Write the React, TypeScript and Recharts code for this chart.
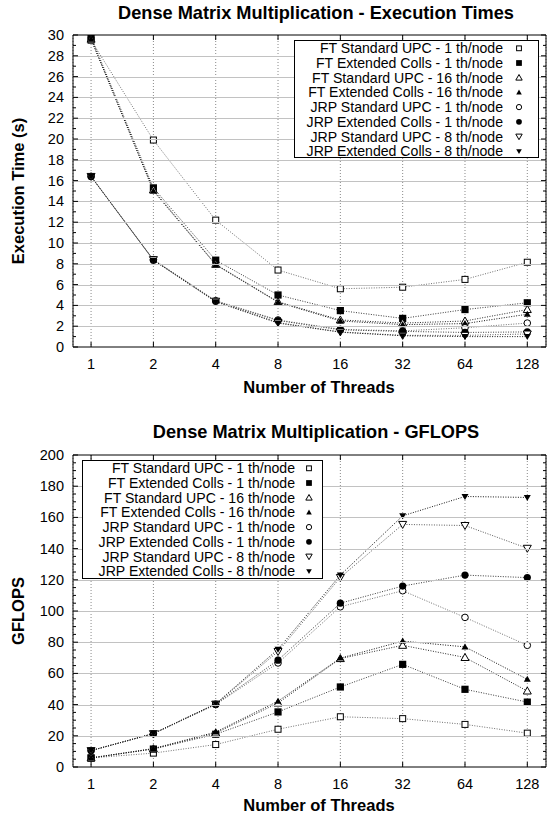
import React from 'react';
import { LineChart, Line, XAxis, YAxis, CartesianGrid, ReferenceArea, Legend } from 'recharts';

// ---------- data ----------
const threadLabels = ['1', '2', '4', '8', '16', '32', '64', '128'];

const seriesNames = [
  'FT Standard UPC - 1 th/node',
  'FT Extended Colls - 1 th/node',
  'FT Standard UPC - 16 th/node',
  'FT Extended Colls - 16 th/node',
  'JRP Standard UPC - 1 th/node',
  'JRP Extended Colls - 1 th/node',
  'JRP Standard UPC - 8 th/node',
  'JRP Extended Colls - 8 th/node',
];

const markerKinds = ['sqOpen', 'sqFill', 'triOpen', 'triFill', 'circOpen', 'circFill', 'triDownOpen', 'triDownFill'];
const lineColors = ['#707070', '#3a3a3a', '#2a2a2a', '#151515', '#707070', '#3a3a3a', '#5a5a5a', '#151515'];

// Execution times (s)
const timeFtStd1 = [29.5, 19.9, 12.2, 7.4, 5.6, 5.75, 6.5, 8.15];
const timeFtExt1 = [29.8, 15.3, 8.35, 5.0, 3.5, 2.75, 3.6, 4.25];
const timeFtStd16 = [29.6, 15.1, 7.95, 4.35, 2.6, 2.3, 2.5, 3.6];
const timeFtExt16 = [29.6, 15.0, 7.9, 4.3, 2.5, 2.15, 2.25, 3.15];
const timeJrpStd1 = [16.4, 8.4, 4.45, 2.6, 1.7, 1.55, 1.85, 2.3];
const timeJrpExt1 = [16.4, 8.35, 4.4, 2.55, 1.65, 1.5, 1.4, 1.45];
const timeJrpStd8 = [16.4, 8.4, 4.4, 2.35, 1.45, 1.12, 1.12, 1.25];
const timeJrpExt8 = [16.4, 8.35, 4.35, 2.3, 1.42, 1.08, 1.0, 1.0];

// GFLOPS
const gfFtStd1 = [5.8, 8.9, 14.4, 24.2, 32.2, 31, 27.3, 21.7];
const gfFtExt1 = [5.8, 11.5, 21, 35.3, 51.3, 65.8, 49.8, 41.6];
const gfFtStd16 = [5.8, 11.7, 21.8, 41, 69.5, 78, 70.2, 48.7];
const gfFtExt16 = [5.8, 11.8, 22.4, 42.2, 69.8, 80.7, 77, 56.2];
const gfJrpStd1 = [10.5, 21.3, 40, 66.7, 102.7, 113, 95.9, 78];
const gfJrpExt1 = [10.5, 21.4, 40.3, 68.5, 105, 116, 123, 121.4];
const gfJrpStd8 = [10.5, 21.4, 40.3, 74, 121.5, 155.5, 154.8, 140.2];
const gfJrpExt8 = [10.5, 21.5, 40.5, 75.5, 123, 161, 173.4, 172.8];

const timeSeries = [timeFtStd1, timeFtExt1, timeFtStd16, timeFtExt16, timeJrpStd1, timeJrpExt1, timeJrpStd8, timeJrpExt8];
const gflopsSeries = [gfFtStd1, gfFtExt1, gfFtStd16, gfFtExt16, gfJrpStd1, gfJrpExt1, gfJrpStd8, gfJrpExt8];

const timeMajorTicks = [0, 2, 4, 6, 8, 10, 12, 14, 16, 18, 20, 22, 24, 26, 28, 30];
const timeMinorTicks = [1, 3, 5, 7, 9, 11, 13, 15, 17, 19, 21, 23, 25, 27, 29];
const gfMajorTicks = [0, 20, 40, 60, 80, 100, 120, 140, 160, 180, 200];
const gfMinorTicks = [5, 10, 15, 25, 30, 35, 45, 50, 55, 65, 70, 75, 85, 90, 95, 105, 110, 115, 125, 130, 135, 145, 150, 155, 165, 170, 175, 185, 190, 195];

// ---------- style ----------
const FONT = '"Liberation Sans", Arial, Helvetica, sans-serif';
const W = 560;
const H = 408;
const PLOT_LEFT = 73;
const PLOT_RIGHT = 546;
const X_DOMAIN: [number, number] = [-0.29, 7.3];
const GRID_COLOR = '#8a8a8a';

function buildRows(series: number[][]) {
  return threadLabels.map((_, i) => {
    const row: Record<string, number> = { idx: i };
    series.forEach((s, k) => {
      row['s' + k] = s[i];
    });
    return row;
  });
}

function Marker({ kind, cx, cy, s = 1, color = '#000' }: { kind: string; cx: number; cy: number; s?: number; color?: string }) {
  const k = s;
  switch (kind) {
    case 'sqOpen':
      return <rect x={cx - 3 * k} y={cy - 3 * k} width={6 * k} height={6 * k} fill="#fff" stroke={color} strokeWidth={1} />;
    case 'sqFill':
      return <rect x={cx - 3.6 * k} y={cy - 3.6 * k} width={7.2 * k} height={7.2 * k} fill={color} />;
    case 'triOpen':
      return <polygon points={`${cx},${cy - 4 * k} ${cx - 4 * k},${cy + 3 * k} ${cx + 4 * k},${cy + 3 * k}`} fill="#fff" stroke={color} strokeWidth={1} />;
    case 'triFill':
      return <polygon points={`${cx},${cy - 3.5 * k} ${cx - 3.5 * k},${cy + 2.5 * k} ${cx + 3.5 * k},${cy + 2.5 * k}`} fill={color} />;
    case 'circOpen':
      return <circle cx={cx} cy={cy} r={3.3 * k} fill="#fff" stroke={color} strokeWidth={1} />;
    case 'circFill':
      return <circle cx={cx} cy={cy} r={3.6 * k} fill={color} />;
    case 'triDownOpen':
      return <polygon points={`${cx},${cy + 4 * k} ${cx - 4 * k},${cy - 3 * k} ${cx + 4 * k},${cy - 3 * k}`} fill="#fff" stroke={color} strokeWidth={1} />;
    case 'triDownFill':
    default:
      return <polygon points={`${cx},${cy + 3.5 * k} ${cx - 3.5 * k},${cy - 2.5 * k} ${cx + 3.5 * k},${cy - 2.5 * k}`} fill={color} />;
  }
}

type ChartProps = {
  series: number[][];
  yMax: number;
  majorTicks: number[];
  minorTicks: number[];
  plotTop: number;
  plotBottom: number;
  legendBox: { left: number; top: number; width: number; height: number; textRight: number; symX: number };
};

function PlotChart({ series, yMax, majorTicks, minorTicks, plotTop, plotBottom, legendBox }: ChartProps) {
  const data = buildRows(series);

  const xTick = (p: any) => {
    const x = p.x;
    const label = threadLabels[p.payload.value];
    return (
      <g key={'xt' + p.index}>
        <line x1={x} x2={x} y1={plotBottom} y2={plotBottom - 5} stroke="#000" />
        <line x1={x} x2={x} y1={plotTop} y2={plotTop + 5} stroke="#000" />
        <text x={x} y={plotBottom + 21.5} textAnchor="middle" fontSize={14.5} fontFamily={FONT} fill="#000">
          {label}
        </text>
      </g>
    );
  };

  const yTick = (p: any) => {
    const y = p.y;
    const v = p.payload.value;
    const inner = Number(v) > 0 && Number(v) < yMax;
    const gy = Math.round(y) + 0.5;
    return (
      <g key={'yt' + p.index}>
        {inner ? <line x1={PLOT_LEFT + 1} x2={PLOT_RIGHT - 1} y1={gy} y2={gy} stroke="#c2c2c2" strokeWidth={1} /> : null}
        <line x1={PLOT_LEFT} x2={PLOT_LEFT + 5} y1={y} y2={y} stroke="#000" />
        <line x1={PLOT_RIGHT - 5} x2={PLOT_RIGHT} y1={y} y2={y} stroke="#000" />
        <text x={64} y={y + 5} textAnchor="end" fontSize={14.5} fontFamily={FONT} fill="#000">
          {v}
        </text>
      </g>
    );
  };

  const yMinorTick = (p: any) => {
    const y = p.y;
    return (
      <g key={'ym' + p.index}>
        <line x1={PLOT_LEFT} x2={PLOT_LEFT + 3} y1={y} y2={y} stroke="#000" />
        <line x1={PLOT_RIGHT - 3} x2={PLOT_RIGHT} y1={y} y2={y} stroke="#000" />
      </g>
    );
  };

  const legendContent = () => {
    const rowH = 14.7;
    return (
      <svg width={legendBox.width} height={legendBox.height} style={{ display: 'block' }}>
        <rect x={0.5} y={0.5} width={legendBox.width - 1} height={legendBox.height - 1} fill="#fff" stroke="#000" strokeWidth={1} />
        {seriesNames.map((name, i) => {
          const base = 13.3 + i * rowH;
          return (
            <g key={name}>
              <text x={legendBox.textRight} y={base} textAnchor="end" fontSize={14.1} fontFamily={FONT} fill="#000">
                {name}
              </text>
              <Marker kind={markerKinds[i]} cx={legendBox.symX} cy={base - 5} s={0.8} />
            </g>
          );
        })}
      </svg>
    );
  };

  return (
    <LineChart
      width={W}
      height={H}
      data={data}
      margin={{ top: plotTop, right: W - PLOT_RIGHT, bottom: H - plotBottom - 1, left: PLOT_LEFT - 1 }}
    >
      <CartesianGrid stroke={GRID_COLOR} strokeDasharray="1 2" horizontal={false} />
      <XAxis
        dataKey="idx"
        type="number"
        domain={X_DOMAIN}
        ticks={[0, 1, 2, 3, 4, 5, 6, 7]}
        interval={0}
        allowDataOverflow
        height={1}
        axisLine={false}
        tickLine={false}
        tick={xTick}
      />
      <YAxis
        type="number"
        domain={[0, yMax]}
        ticks={majorTicks}
        interval={0}
        allowDataOverflow
        width={1}
        axisLine={false}
        tickLine={false}
        tick={yTick}
      />
      <YAxis
        yAxisId="minor"
        type="number"
        domain={[0, yMax]}
        ticks={minorTicks}
        interval={0}
        allowDataOverflow
        width={0.001}
        axisLine={false}
        tickLine={false}
        tick={yMinorTick}
      />
      <ReferenceArea x1={X_DOMAIN[0]} x2={X_DOMAIN[1]} y1={0} y2={yMax} fill="none" fillOpacity={0} stroke="#000" strokeWidth={1} ifOverflow="visible" />
      {seriesNames.map((name, k) => (
        <Line
          key={name}
          name={name}
          dataKey={'s' + k}
          type="linear"
          stroke={lineColors[k]}
          strokeWidth={1}
          strokeDasharray="1 1.5"
          isAnimationActive={false}
          activeDot={false}
          dot={(p: any) => <Marker key={'d' + k + '-' + p.index} kind={markerKinds[k]} cx={p.cx} cy={p.cy} />}
        />
      ))}
      <Legend
        layout="vertical"
        align="center"
        verticalAlign="middle"
        content={legendContent}
        wrapperStyle={{ left: legendBox.left, top: legendBox.top, width: legendBox.width, height: legendBox.height, right: 'auto', bottom: 'auto' }}
      />
    </LineChart>
  );
}

export default function App() {
  const topPlotTop = 35;
  const topPlotBottom = 347;
  const botPlotTop = 47;
  const botPlotBottom = 359;
  return (
    <div style={{ position: 'absolute', left: 0, top: 0, width: 560, height: 816, background: '#fff', overflow: 'hidden' }}>
      <div style={{ position: 'absolute', left: 0, top: 0 }}>
        <PlotChart
          series={timeSeries}
          yMax={30}
          majorTicks={timeMajorTicks}
          minorTicks={timeMinorTicks}
          plotTop={topPlotTop}
          plotBottom={topPlotBottom}
          legendBox={{ left: 294, top: 40, width: 245, height: 118, textRight: 209, symX: 225 }}
        />
      </div>
      <div style={{ position: 'absolute', left: 0, top: 408 }}>
        <PlotChart
          series={gflopsSeries}
          yMax={200}
          majorTicks={gfMajorTicks}
          minorTicks={gfMinorTicks}
          plotTop={botPlotTop}
          plotBottom={botPlotBottom}
          legendBox={{ left: 82, top: 52, width: 241, height: 119, textRight: 213, symX: 227 }}
        />
      </div>
      <svg width={560} height={816} style={{ position: 'absolute', left: 0, top: 0, pointerEvents: 'none' }}>
        <text x={316} y={18.5} textAnchor="middle" fontSize={18.2} fontWeight="bold" fontFamily={FONT}>
          Dense Matrix Multiplication - Execution Times
        </text>
        <text x={319} y={393} textAnchor="middle" fontSize={16.5} fontWeight="bold" fontFamily={FONT}>
          Number of Threads
        </text>
        <text transform="translate(24,191) rotate(-90)" textAnchor="middle" fontSize={16.5} fontWeight="bold" fontFamily={FONT}>
          Execution Time (s)
        </text>
        <text x={316} y={437.7} textAnchor="middle" fontSize={18.2} fontWeight="bold" fontFamily={FONT}>
          Dense Matrix Multiplication - GFLOPS
        </text>
        <text x={319} y={811} textAnchor="middle" fontSize={16.5} fontWeight="bold" fontFamily={FONT}>
          Number of Threads
        </text>
        <text transform="translate(24,611) rotate(-90)" textAnchor="middle" fontSize={16.5} fontWeight="bold" fontFamily={FONT}>
          GFLOPS
        </text>
      </svg>
    </div>
  );
}
